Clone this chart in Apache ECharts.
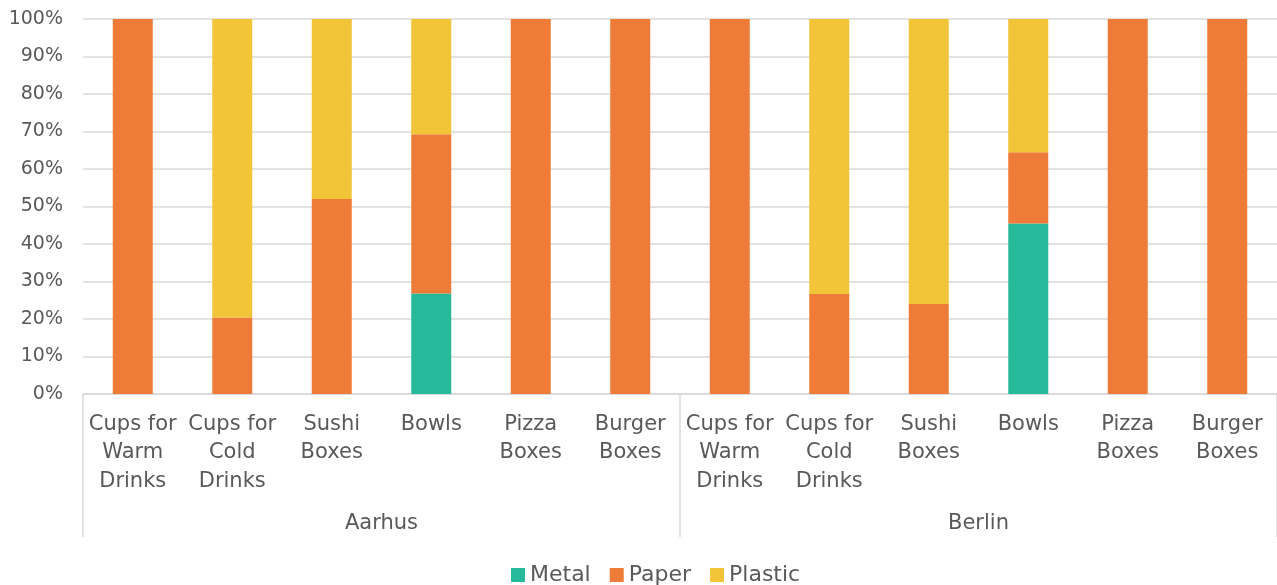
<!DOCTYPE html>
<html>
<head>
<meta charset="utf-8">
<script src="https://cdn.jsdelivr.net/npm/echarts@6/dist/echarts.min.js"></script>
<style>html,body{margin:0;padding:0;background:#fff}#c{width:1277px;height:585px}</style>
</head>
<body>
<div id="c"></div>
<script>
var categories = ['Cups for\nWarm\nDrinks','Cups for\nCold\nDrinks','Sushi\nBoxes','Bowls','Pizza\nBoxes','Burger\nBoxes',
                  'Cups for\nWarm\nDrinks','Cups for\nCold\nDrinks','Sushi\nBoxes','Bowls','Pizza\nBoxes','Burger\nBoxes'];
var groups = ['Aarhus','Berlin'];
var metal   = [0, 0, 0, 26.8, 0, 0,   0, 0, 0, 45.5, 0, 0];
var paper   = [100, 20.4, 52, 42.5, 100, 100,   100, 26.7, 24, 19, 100, 100];
var plastic = [0, 79.6, 48, 30.7, 0, 0,   0, 73.3, 76, 35.5, 0, 0];

var font = 'DejaVu Sans';
var txt = '#595959';
var chart = echarts.init(document.getElementById('c'));
chart.setOption({
  animation: false,
  textStyle: {fontFamily: font},
  grid: {left: 83, right: -4, top: 19, bottom: 191},
  legend: {
    data: ['Metal','Paper','Plastic'],
    top: 559, left: 506,
    itemWidth: 14, itemHeight: 14, itemGap: 19,
    icon: 'rect',
    textStyle: {fontSize: 22, color: txt, fontFamily: font}
  },
  xAxis: [
    {
      type: 'category', data: categories, position: 'bottom',
      axisLine: {lineStyle: {color: '#d9d9d9', width: 1.5}},
      axisTick: {show: true, length: 143, interval: function (i) { return i % 6 === 0; },
                 lineStyle: {color: '#d9d9d9', width: 1.5}},
      axisLabel: {interval: 0, fontSize: 21, lineHeight: 28.5, color: txt, margin: 16, fontFamily: font}
    },
    {
      type: 'category', data: groups, position: 'bottom',
      axisLine: {show: false},
      axisTick: {show: false},
      axisLabel: {fontSize: 21, color: txt, margin: 119, fontFamily: font}
    }
  ],
  yAxis: {
    type: 'value', min: 0, max: 100, interval: 10,
    axisLine: {show: false}, axisTick: {show: false},
    axisLabel: {formatter: '{value}%', fontSize: 19, color: txt, margin: 20, fontFamily: font},
    splitLine: {lineStyle: {color: '#d9d9d9', width: 1.5}}
  },
  series: [
    {name: 'Metal', type: 'bar', stack: 'total', barWidth: 40, data: metal, itemStyle: {color: '#26B99A'}},
    {name: 'Paper', type: 'bar', stack: 'total', barWidth: 40, data: paper, itemStyle: {color: '#EF7B38'}},
    {name: 'Plastic', type: 'bar', stack: 'total', barWidth: 40, data: plastic, itemStyle: {color: '#F2C438'}}
  ]
});
</script>
</body>
</html>
